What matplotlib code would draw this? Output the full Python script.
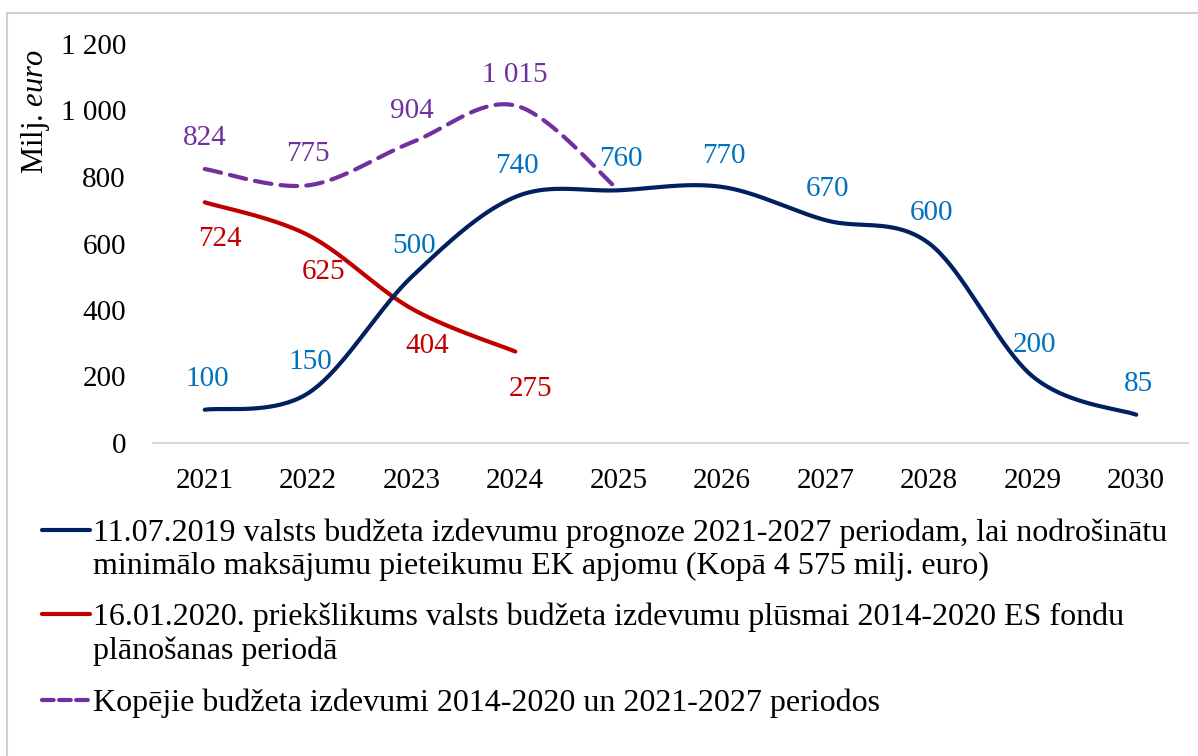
import numpy as np
import matplotlib
matplotlib.use("Agg")
import matplotlib.pyplot as plt
from matplotlib.lines import Line2D
from matplotlib.patches import Rectangle

plt.rcParams['font.family'] = ['Liberation Serif', 'DejaVu Serif']
plt.rcParams['mathtext.fontset'] = 'custom'
plt.rcParams['mathtext.rm'] = 'Liberation Serif'
plt.rcParams['mathtext.it'] = 'Liberation Serif:italic'

years = ['2021', '2022', '2023', '2024', '2025', '2026', '2027', '2028', '2029', '2030']
blue_vals = [100, 150, 500, 740, 760, 770, 670, 600, 200, 85]
red_vals = [724, 625, 404, 275]
purple_vals = [824, 775, 904, 1015, 760]
purple_show_label = [True, True, True, True, False]
yticks = [0, 200, 400, 600, 800, 1000, 1200]

legend_labels = [
    "11.07.2019 valsts budžeta izdevumu prognoze 2021-2027 periodam, lai nodrošinātu\nminimālo maksājumu pieteikumu EK apjomu (Kopā 4 575 milj. euro)",
    "16.01.2020. priekšlikums valsts budžeta izdevumu plūsmai 2014-2020 ES fondu\nplānošanas periodā",
    "Kopējie budžeta izdevumi 2014-2020 un 2021-2027 periodos",
]

C_BLUE = '#002060'
C_BLUE_LBL = '#0070C0'
C_RED = '#C00000'
C_PURPLE = '#7030A0'
FS = 21
FS_LEG = 23

def smooth(xs, ys, n=40):
    P = np.column_stack([xs, ys]).astype(float)
    m = len(P)
    out = [P[0]]
    for i in range(m - 1):
        p0 = P[i - 1] if i > 0 else P[i]
        p1 = P[i]
        p2 = P[i + 1]
        p3 = P[i + 2] if i + 2 < m else P[i + 1]
        c1 = p1 + (p2 - p0) / 6.0
        c2 = p2 - (p3 - p1) / 6.0
        t = np.linspace(0, 1, n)[1:, None]
        seg = ((1 - t) ** 3) * p1 + 3 * ((1 - t) ** 2) * t * c1 + 3 * (1 - t) * t ** 2 * c2 + t ** 3 * p2
        out.extend(seg)
    out = np.array(out)
    return out[:, 0], out[:, 1]

W, H = 1198, 756
fig = plt.figure(figsize=(W / 100, H / 100), dpi=100)
ax = fig.add_axes([153 / W, 1 - 443 / H, (1188 - 153) / W, (443 - 44) / H])

x_all = np.arange(len(years))

def draw(vals, color, ls, lblcolor, dy, dx=0, show=None):
    x = x_all[:len(vals)]
    sx, sy = smooth(x, vals)
    if ls == 'dash':
        ax.plot(sx, sy, color=color, lw=3.0, dashes=(4.0, 2.2), solid_capstyle='round', dash_capstyle='round', zorder=3)
    else:
        ax.plot(sx, sy, color=color, lw=3.0, solid_capstyle='round', zorder=3)
    if show is None:
        show = [True] * len(vals)
    for xi, v, s in zip(x, vals, show):
        if not s:
            continue
        ax.annotate(f"{v:,}".replace(',', ' '), (xi, v), xytext=(dx, dy), textcoords='offset pixels',
                    ha='center', va='center', fontsize=FS, color=lblcolor, zorder=4)

draw(red_vals, C_RED, 'solid', C_RED, -37, 15)
draw(blue_vals, C_BLUE, 'solid', C_BLUE_LBL, 31, 2)
draw(purple_vals, C_PURPLE, 'dash', C_PURPLE, 31, 0, purple_show_label)

ax.set_xlim(-0.5, len(years) - 0.5)
ax.set_ylim(0, 1200)
ax.set_xticks(x_all)
ax.set_xticklabels(years, fontsize=FS)
ax.set_yticks(yticks)
ax.set_yticklabels([f"{v:,}".replace(',', ' ') for v in yticks], fontsize=FS)
ax.tick_params(length=0)
ax.tick_params(axis='x', pad=18)
ax.tick_params(axis='y', pad=19.5)
for s in ['top', 'right', 'left']:
    ax.spines[s].set_visible(False)
ax.spines['bottom'].set_color('#D9D9D9')
ax.spines['bottom'].set_linewidth(1.5)
ax.patch.set_alpha(0)

fig.text(35 / W, 1 - 112 / H, "Milj. $euro$", rotation=90, fontsize=22, ha='center', va='center')

# legend
handles = [(C_BLUE, '-'), (C_RED, '-'), (C_PURPLE, '--')]
rows_y = [530, 614, 700]
for (c, ls), lab, ry in zip(handles, legend_labels, rows_y):
    yf = 1 - ry / H
    if ls == '--':
        l = Line2D([42 / W, 90 / W], [yf, yf], transform=fig.transFigure, color=c, lw=3.0,
                   dashes=(2.8, 1.3), dash_capstyle='round')
    else:
        l = Line2D([42 / W, 90 / W], [yf, yf], transform=fig.transFigure, color=c, lw=3.0,
                   solid_capstyle='round')
    fig.add_artist(l)
    fig.text(93 / W, yf + 12 / H, lab, fontsize=FS_LEG, ha='left', va='top', linespacing=1.22,
             transform=fig.transFigure)

# outer border
fig.add_artist(Rectangle((7 / W, -0.1), 1.2, 1 - 13 / H + 0.1, transform=fig.transFigure,
                         fill=False, edgecolor='#D0D0D0', lw=1.5))

fig.savefig('out.png', dpi=100)
